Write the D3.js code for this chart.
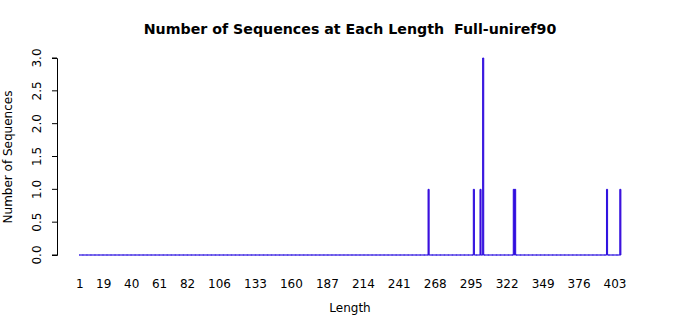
<!DOCTYPE html>
<html><head><meta charset="utf-8">
<script src="https://cdn.jsdelivr.net/npm/d3@7"></script>
<style>body{margin:0;background:#fff}svg{display:block}text{font-family:"DejaVu Sans",sans-serif}</style>
</head><body>
<svg id="c" width="700" height="315"></svg>
<script>
const minLength = 1, maxLength = 407;
const barLengths = [263, 297, 302, 304, 327, 328, 397, 407];
const barCounts  = [1, 1, 1, 3, 1, 1, 1, 1];
const xTickLabels = [1, 19, 40, 61, 82, 106, 133, 160, 187, 214, 241, 268, 295, 322, 349, 376, 403];
const yTicks = [0, 0.5, 1, 1.5, 2, 2.5, 3];
const title = "Number of Sequences at Each Length  Full-uniref90";

const lengths = d3.range(minLength, maxLength + 1);
const countMap = new Map(barLengths.map((l, i) => [l, barCounts[i]]));
const data = lengths.map(l => ({len: l, n: countMap.get(l) || 0}));

const svg = d3.select("#c");
const x = d3.scaleBand().domain(lengths).range([79.15, 620.9]).paddingInner(1/6).paddingOuter(0);
const y = d3.scaleLinear().domain([0, 3]).range([255, 58]);

// bars (path so zero-height bars still show their border)
svg.append("g").selectAll("path").data(data).join("path")
  .attr("d", d => {
    const x0 = x(d.len), w = x.bandwidth(), y0 = y(0), y1 = y(d.n);
    return `M${x0},${y0}H${x0 + w}V${y1}H${x0}Z`;
  })
  .attr("fill", "#7000d0").attr("stroke", "#2a10e0").attr("stroke-width", 1);

// y axis
const ya = svg.append("g").attr("transform", "translate(57,0)")
  .call(d3.axisLeft(y).tickValues(yTicks).tickSize(5).tickFormat(d3.format(".1f")));
ya.select(".domain").attr("stroke", "#000");
ya.selectAll(".tick").attr("transform", null);
ya.selectAll(".tick line").attr("y1", d => y(d)).attr("y2", d => y(d)).attr("x2", -5);
ya.selectAll("text").attr("font-size", 12).attr("fill", "#000")
  .attr("text-anchor", "middle").attr("x", 0).attr("y", 0).attr("dy", "0.35em")
  .attr("transform", d => `translate(-20,${y(d)}) rotate(-90)`);

// x axis labels (no line / ticks)
const xa = svg.append("g").attr("transform", "translate(0,255)")
  .call(d3.axisBottom(x).tickValues(xTickLabels).tickSize(0).tickPadding(24));
xa.select(".domain").remove();
xa.selectAll("text").attr("font-size", 12).attr("fill", "#000");

// titles
svg.append("text").attr("x", 350).attr("y", 34).attr("text-anchor", "middle")
  .attr("font-size", 14.2).attr("font-weight", "bold").style("white-space", "pre").text(title);
svg.append("text").attr("x", 350).attr("y", 312).attr("text-anchor", "middle")
  .attr("font-size", 12).text("Length");
svg.append("text").attr("transform", "translate(12,157) rotate(-90)").attr("text-anchor", "middle")
  .attr("font-size", 12).text("Number of Sequences");
</script>
</body></html>
